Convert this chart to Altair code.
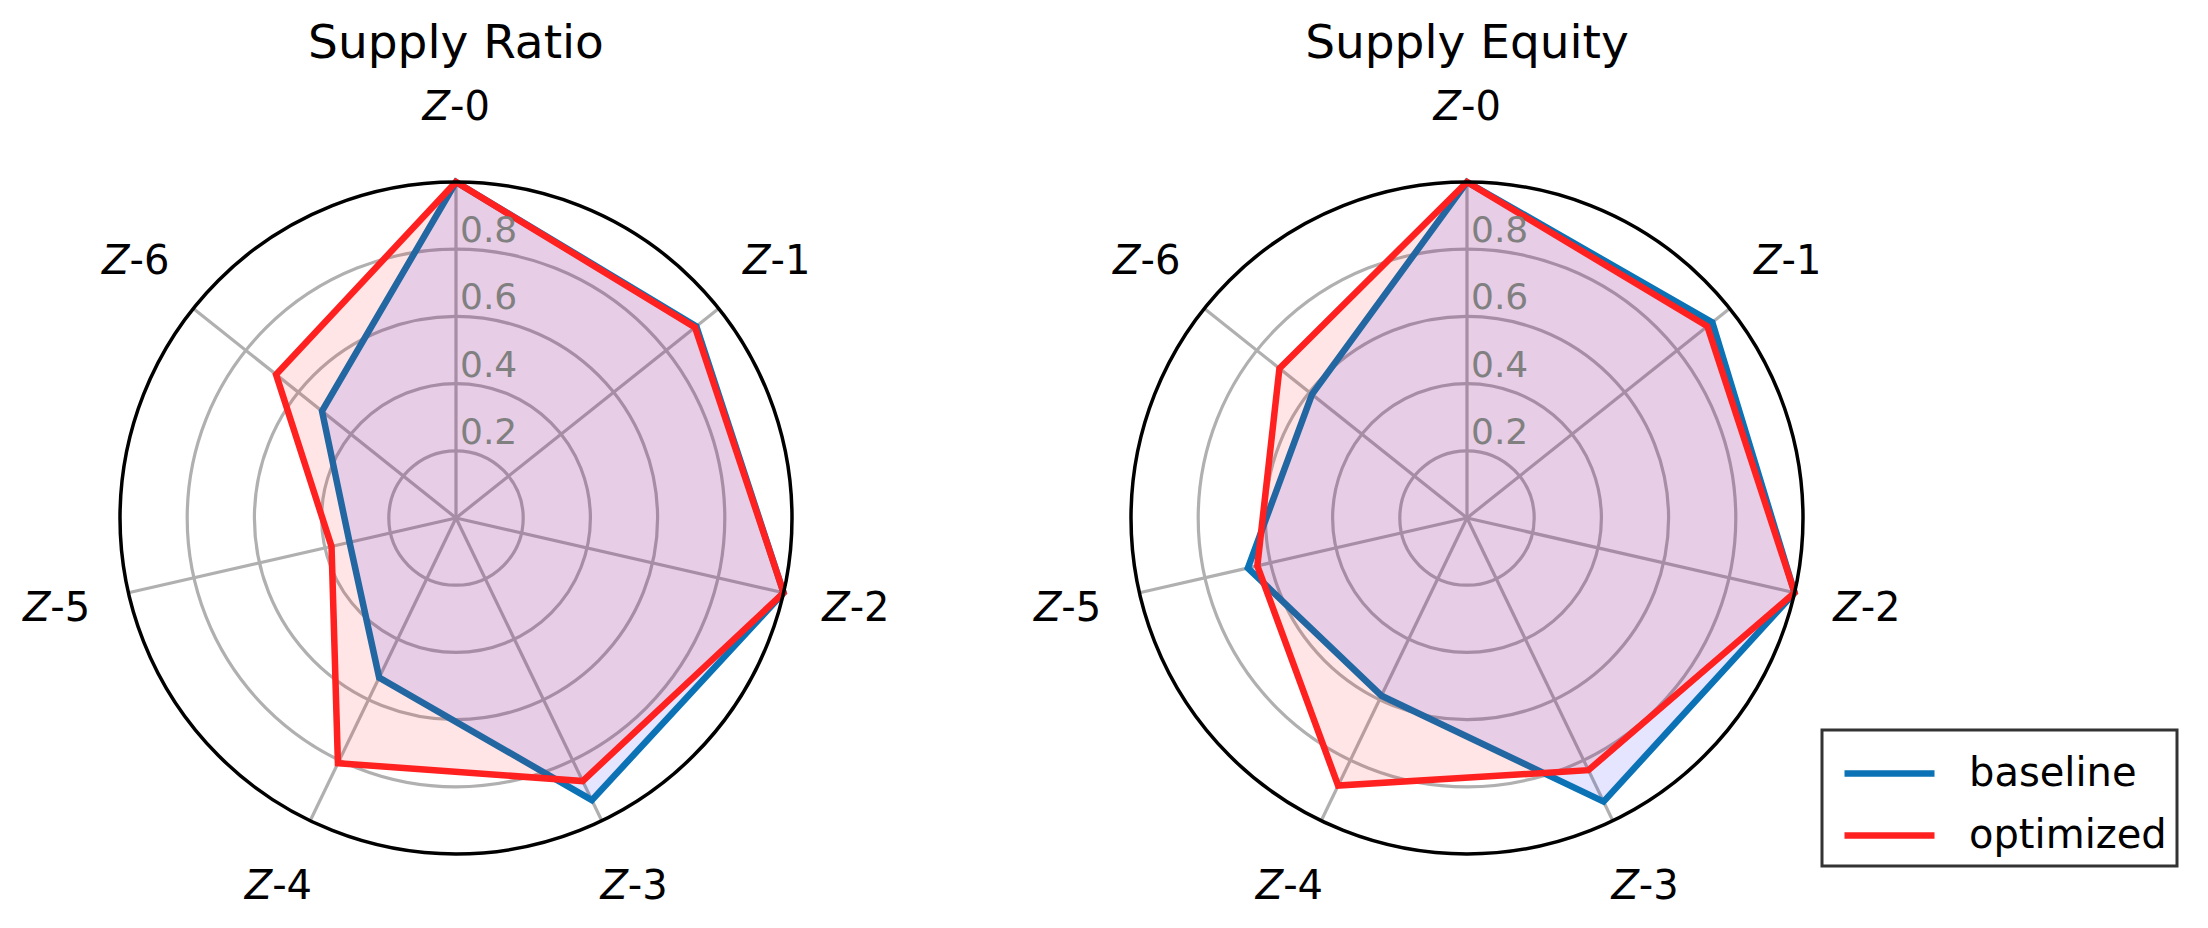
import math
import altair as alt
import pandas as pd

# ---------------- data ----------------
categories = ["Z-0", "Z-1", "Z-2", "Z-3", "Z-4", "Z-5", "Z-6"]
panels = ["Supply Ratio", "Supply Equity"]
series_names = ["baseline", "optimized"]
ratio_baseline = [1.0, 0.915, 1.0, 0.932, 0.527, 0.325, 0.51]
ratio_optimized = [1.0, 0.91, 1.0, 0.869, 0.81, 0.38, 0.685]
equity_baseline = [1.0, 0.934, 1.0, 0.937, 0.587, 0.669, 0.59]
equity_optimized = [1.0, 0.915, 1.0, 0.833, 0.884, 0.64, 0.714]
r_ticks = [0.2, 0.4, 0.6, 0.8]
r_max = 1.0

values = {
    ("Supply Ratio", "baseline"): ratio_baseline,
    ("Supply Ratio", "optimized"): ratio_optimized,
    ("Supply Equity", "baseline"): equity_baseline,
    ("Supply Equity", "optimized"): equity_optimized,
}

# ---------------- layout / style ----------------
N = len(categories)
W, H = 2192, 912
PX = 336.0            # pixels per unit radius
CX0, CY = 448.0, 510.0
GAP = 1011.0 / PX     # distance between panel centres, in radius units
LABEL_R = 1.22
TITLE_Y = (CY - 50.0) / PX
FONT = "DejaVu Sans"
BLUE = "#0a72b5"
RED = "#ff2020"
GRID = "#b0b0b0"
LW = 6.5

xs = alt.Scale(domain=[-CX0 / PX, (W - CX0) / PX], nice=False, zero=False)
ys = alt.Scale(domain=[-(H - CY) / PX, CY / PX], nice=False, zero=False)
# circle symbol: diameter = sqrt(size) -> size = (2*PX*r)^2
ss = alt.Scale(type="pow", exponent=2, domain=[0, 1], range=[0, (2 * PX) ** 2], zero=True, nice=False)

rows = []
for p_i, p in enumerate(panels):
    for s in series_names:
        for i, c in enumerate(categories):
            rows.append(dict(panel=p, pi=p_i, series=s, idx=i, cat=c, value=values[(p, s)][i]))
df = pd.DataFrame(rows)

ring_df = pd.DataFrame([dict(pi=p_i, r=t, lab=f"{t:.1f}") for p_i in range(len(panels)) for t in r_ticks])
outer_df = pd.DataFrame([dict(pi=p_i, r=r_max) for p_i in range(len(panels))])
spoke_df = pd.DataFrame([dict(pi=p_i, idx=i, cat=c) for p_i in range(len(panels)) for i, c in enumerate(categories)])
title_df = pd.DataFrame([dict(pi=p_i, title=p) for p_i, p in enumerate(panels)])

ang = f"(2*PI*datum.idx/{N})"
X = alt.X("x:Q", scale=xs, axis=None)
Y = alt.Y("y:Q", scale=ys, axis=None)

# grid rings
rings = alt.Chart(ring_df).transform_calculate(
    x=f"datum.pi*{GAP}", y="0"
).mark_point(shape="circle", filled=False, color=GRID, strokeWidth=3.2, opacity=1).encode(
    x=X, y=Y, size=alt.Size("r:Q", scale=ss, legend=None)
)

# spokes
spokes = alt.Chart(spoke_df).transform_calculate(
    x=f"datum.pi*{GAP}", y="0",
    x2=f"datum.pi*{GAP} + {r_max}*sin({ang})",
    y2=f"{r_max}*cos({ang})",
).mark_rule(color=GRID, strokeWidth=3.2).encode(
    x=X, y=Y, x2="x2:Q", y2="y2:Q"
)

pts = alt.Chart(df).transform_calculate(
    x=f"datum.pi*{GAP} + datum.value*sin({ang})",
    y=f"datum.value*cos({ang})",
)

color = alt.Color(
    "series:N",
    scale=alt.Scale(domain=series_names, range=[BLUE, RED]),
    legend=alt.Legend(
        title=None, orient="none", legendX=1814, legendY=722,
        symbolType="M-0.7,0H2.3", symbolSize=3600, symbolStrokeWidth=LW,
        labelFontSize=40, labelFont=FONT, labelColor="black", labelOffset=70, labelLimit=600,
        padding=10, rowPadding=8, strokeColor="#333333", fillColor="white",
    ),
)

def fill_layer(s, c):
    return pts.transform_filter(alt.datum.series == s).mark_line(
        interpolate="linear-closed", fill=c, fillOpacity=0.1, strokeOpacity=0
    ).encode(x=X, y=Y, order="idx:Q", detail="pi:N")

def line_layer(s):
    return pts.transform_filter(alt.datum.series == s).mark_line(
        interpolate="linear-closed", strokeWidth=LW
    ).encode(x=X, y=Y, order="idx:Q", detail="pi:N", color=color)

# radial tick labels
rlabels = alt.Chart(ring_df).transform_calculate(
    x=f"datum.pi*{GAP}", y="datum.r"
).mark_text(align="left", baseline="alphabetic", dx=4, dy=-7, fontSize=36, font=FONT, color="#808080").encode(
    x=X, y=Y, text="lab:N"
)

lab_base = alt.Chart(spoke_df).transform_calculate(
    x=f"datum.pi*{GAP} + {LABEL_R}*sin({ang})",
    y=f"{LABEL_R}*cos({ang})",
    pre="split(datum.cat,'-')[0]",
    suf="'-' + split(datum.cat,'-')[1]",
)
lab_pre = lab_base.mark_text(align="right", baseline="middle", dx=-6, fontSize=40, font=FONT,
                             fontStyle="italic", color="black").encode(x=X, y=Y, text="pre:N")
lab_suf = lab_base.mark_text(align="left", baseline="middle", dx=-6, fontSize=40, font=FONT,
                             color="black").encode(x=X, y=Y, text="suf:N")

titles = alt.Chart(title_df).transform_calculate(
    x=f"datum.pi*{GAP}", y=f"{TITLE_Y}"
).mark_text(align="center", baseline="alphabetic", fontSize=47, font=FONT, color="black").encode(
    x=X, y=Y, text="title:N"
)

outer = alt.Chart(outer_df).transform_calculate(
    x=f"datum.pi*{GAP}", y="0"
).mark_point(shape="circle", filled=False, color="black", strokeWidth=3.5, opacity=1).encode(
    x=X, y=Y, size=alt.Size("r:Q", scale=ss, legend=None)
)

chart = alt.layer(
    rings, spokes,
    fill_layer("baseline", "blue"), line_layer("baseline"),
    fill_layer("optimized", "red"), line_layer("optimized"),
    rlabels, lab_pre, lab_suf, titles, outer,
).properties(width=W, height=H, padding=0, background="white").configure_view(
    stroke=None
).configure_legend(strokeWidth=3)

chart.save("out.html", embed_options={"renderer": "svg", "actions": False})
